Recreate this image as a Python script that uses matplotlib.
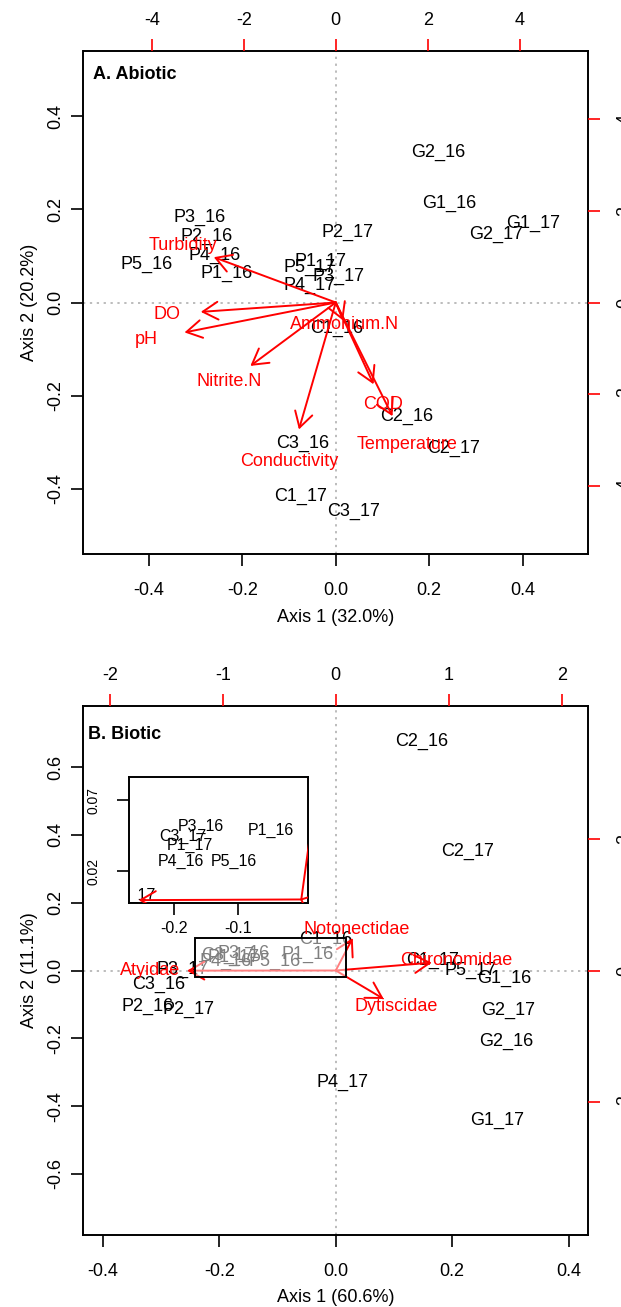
import matplotlib
matplotlib.use('Agg')
import matplotlib.pyplot as plt
from matplotlib.patches import Rectangle

plt.rcParams['font.family'] = ['Liberation Sans', 'DejaVu Sans']
plt.rcParams['font.size'] = 13
plt.rcParams['axes.unicode_minus'] = False

# ---------------- Panel A: abiotic (site scores, primary axes) ----------------
a_sites = ['P3_16', 'P2_16', 'P4_16', 'P1_16', 'P5_16', 'P2_17', 'P1_17', 'P5_17',
           'P3_17', 'P4_17', 'C1_16', 'G2_16', 'G1_16', 'G2_17', 'G1_17', 'C2_16',
           'C3_16', 'C2_17', 'C1_17', 'C3_17']
a_x = [-0.2914, -0.2760, -0.2583, -0.2326, -0.4037, 0.0255, -0.0316, -0.0572,
       0.0069, -0.0551, 0.0021, 0.2201, 0.2437, 0.3428, 0.4213, 0.1517,
       -0.0700, 0.2524, -0.0759, 0.0375]
a_y = [0.1829, 0.1422, 0.1016, 0.0631, 0.0824, 0.1514, 0.0873, 0.0745,
       0.0552, 0.0374, -0.0555, 0.3226, 0.2134, 0.1465, 0.1701, -0.2442,
       -0.3027, -0.3141, -0.4166, -0.4476]
# variable loadings (secondary axes)
a_vars = ['Turbidity', 'DO', 'pH', 'Nitrite.N', 'Conductivity', 'COD',
          'Temperature', 'Ammonium.N']
a_vx = [-3.318, -3.672, -4.115, -2.323, -1.002, 1.028, 1.544, 0.201]
a_vy = [1.236, -0.256, -0.816, -1.730, -3.465, -2.231, -3.101, -0.490]
a_xticks = [-0.4, -0.2, 0.0, 0.2, 0.4]
a_yticks = [-0.4, -0.2, 0.0, 0.2, 0.4]
a_top_ticks = [-4, -2, 0, 2, 4]
a_right_ticks = [-4, -2, 0, 2, 4]
a_lim = 0.5396
a_lim2 = 5.49

# ---------------- Panel B: biotic ----------------
b_sites = ['C2_16', 'C2_17', 'C1_17', 'P5_17', 'G1_16', 'G2_17', 'G2_16', 'G1_17',
           'P4_17', 'C1_16', 'P3_17', 'C3_16', 'P2_16', 'P2_17',
           'P3_16', 'C3_17', 'P1_17', 'P1_16', 'P4_16', 'P5_16']
b_x = [0.1481, 0.2271, 0.1662, 0.2323, 0.2890, 0.2964, 0.2924, 0.2770,
       0.0124, -0.0168, -0.2640, -0.3050, -0.3235, -0.2522,
       -0.1576, -0.1860, -0.1750, -0.0480, -0.1895, -0.1053]
b_y = [0.6770, 0.3525, 0.0310, 0.0000, -0.0230, -0.1165, -0.2100, -0.4410,
       -0.3289, 0.0920, 0.0030, -0.0398, -0.1047, -0.1145,
       0.0517, 0.0446, 0.0383, 0.0484, 0.0270, 0.0266]
b_vars = ['Notonectidae', 'Chironomidae', 'Dytiscidae', 'Atyidae']
b_vx = [0.188, 1.062, 0.531, -1.644]
b_vy = [0.616, 0.149, -0.540, -0.003]
b_xticks = [-0.4, -0.2, 0.0, 0.2, 0.4]
b_yticks = [-0.6, -0.4, -0.2, 0.0, 0.2, 0.4, 0.6]
b_top_ticks = [-2, -1, 0, 1, 2]
b_right_ticks = [-2, 0, 2]
b_xlim = 0.4334
b_ylim = 0.780
b_ratio = 5.15
# zoom window drawn in panel B and the inset limits
zoom_x = (-0.2419, 0.0175)
zoom_y = (-0.020, 0.095)
inset_xlim = (-0.27, 0.011)
inset_ylim = (-0.0027, 0.0864)
inset_xticks = [-0.2, -0.1]
inset_yticks = [0.02, 0.07]

W, H = 621, 1307
fig = plt.figure(figsize=(W / 100, H / 100), dpi=100)


def rect_pos(l, t, r, b):
    return [l / W, 1 - b / H, (r - l) / W, (b - t) / H]


TL = 8.3
FS = 13


def setup_primary(ax, xlim, ylim, xticks, yticks, xlabel, ylabel):
    ax.set_xlim(xlim)
    ax.set_ylim(ylim)
    ax.set_xticks(xticks)
    ax.set_xticklabels([f'{v:.1f}' for v in xticks])
    ax.set_yticks(yticks)
    ax.set_yticklabels([f'{v:.1f}' for v in yticks], rotation=90, va='center')
    ax.tick_params(axis='x', direction='out', length=TL, width=1.2, pad=12.2, labelsize=FS)
    ax.tick_params(axis='y', direction='out', length=TL, width=1.2, pad=5.9, labelsize=FS)
    for s in ax.spines.values():
        s.set_linewidth(1.4)
    ax.set_xlabel(xlabel, labelpad=6.5, fontsize=FS)
    ax.set_ylabel(ylabel, labelpad=6.3, fontsize=FS)
    ax.axhline(0, color='#AAAAAA', lw=1.1, ls=(0, (1.5, 3)), zorder=0)
    ax.axvline(0, color='#AAAAAA', lw=1.1, ls=(0, (1.5, 3)), zorder=0)


def setup_secondary(pos, xlim, ylim, xticks, yticks):
    ax2 = fig.add_axes(pos, facecolor='none')
    ax2.set_xlim(xlim)
    ax2.set_ylim(ylim)
    ax2.xaxis.tick_top()
    ax2.yaxis.tick_right()
    ax2.set_xticks(xticks)
    ax2.set_xticklabels([str(v) for v in xticks])
    ax2.set_yticks(yticks)
    ax2.set_yticklabels([str(v) for v in yticks], rotation=90, va='center')
    ax2.tick_params(axis='x', direction='out', color='red', labelcolor='black',
                    length=TL, width=1.2, pad=7.2, labelsize=FS)
    ax2.tick_params(axis='y', direction='out', color='red', labelcolor='black',
                    length=TL, width=1.2, pad=12.2, labelsize=FS)
    for s in ax2.spines.values():
        s.set_visible(False)
    return ax2


def draw_arrow(ax, x, y, clip=False):
    ann = ax.annotate('', xy=(x, y), xytext=(0, 0), annotation_clip=False,
                      arrowprops=dict(arrowstyle='->,head_length=0.55,head_width=0.32',
                                      color='red', lw=1.4, shrinkA=0, shrinkB=0,
                                      mutation_scale=20))
    if clip:
        ann.arrow_patch.set_clip_box(ax.bbox)
        ann.arrow_patch.set_clip_on(True)


# ---------------- Panel A ----------------
posA = rect_pos(83.5, 51, 588, 554)
axA = fig.add_axes(posA)
setup_primary(axA, (-a_lim, a_lim), (-a_lim, a_lim), a_xticks, a_yticks,
              'Axis 1 (32.0%)', 'Axis 2 (20.2%)')
for s, x, y in zip(a_sites, a_x, a_y):
    axA.text(x, y, s, ha='center', va='center', fontsize=FS, color='black')
axA.text(0.019, 0.954, 'A. Abiotic', transform=axA.transAxes, fontweight='bold',
         ha='left', va='center', fontsize=FS)
axA2 = setup_secondary(posA, (-a_lim2, a_lim2), (-a_lim2, a_lim2), a_top_ticks, a_right_ticks)
for s, x, y in zip(a_vars, a_vx, a_vy):
    draw_arrow(axA2, 0.8 * x, 0.8 * y)
    axA2.text(x, y, s, ha='center', va='center', fontsize=FS, color='red')

# ---------------- Panel B ----------------
posB = rect_pos(83.5, 706, 588, 1235)
axB = fig.add_axes(posB)
setup_primary(axB, (-b_xlim, b_xlim), (-b_ylim, b_ylim), b_xticks, b_yticks,
              'Axis 1 (60.6%)', 'Axis 2 (11.1%)')
for s, x, y in zip(b_sites, b_x, b_y):
    axB.text(x, y, s, ha='center', va='center', fontsize=FS, color='black')
axB.text(0.009, 0.947, 'B. Biotic', transform=axB.transAxes, fontweight='bold',
         ha='left', va='center', fontsize=FS)
axB2 = setup_secondary(posB, (-b_xlim * b_ratio, b_xlim * b_ratio),
                       (-b_ylim * b_ratio, b_ylim * b_ratio), b_top_ticks, b_right_ticks)
for s, x, y in zip(b_vars, b_vx, b_vy):
    draw_arrow(axB2, 0.8 * x, 0.8 * y)
    axB2.text(x, y, s, ha='center', va='center', fontsize=FS, color='red')
zr = Rectangle((zoom_x[0], zoom_y[0]), zoom_x[1] - zoom_x[0], zoom_y[1] - zoom_y[0],
               transform=axB.transData, facecolor=(1, 1, 1, 0.5), edgecolor='black',
               lw=1.4, zorder=20)
axB2.add_patch(zr)

# ---------------- Inset ----------------
axI = fig.add_axes(rect_pos(129.3, 776.7, 308.3, 903.3))
axI.set_xlim(inset_xlim)
axI.set_ylim(inset_ylim)
axI.set_xticks(inset_xticks)
axI.set_xticklabels([f'{v:.1f}' for v in inset_xticks])
axI.set_yticks(inset_yticks)
axI.set_yticklabels([f'{v:.2f}' for v in inset_yticks], rotation=90, va='center')
axI.tick_params(axis='x', direction='out', length=8.6, width=1.2, pad=4.5, labelsize=11.5)
axI.tick_params(axis='y', direction='out', length=8.6, width=1.2, pad=12, labelsize=10)
for s in axI.spines.values():
    s.set_linewidth(1.4)
for s, x, y in zip(b_sites, b_x, b_y):
    axI.text(x, y, s, ha='center', va='center', fontsize=11.5, color='black', clip_on=True)
for s, x, y in zip(b_vars, b_vx, b_vy):
    draw_arrow(axI, 0.8 * x / b_ratio, 0.8 * y / b_ratio, clip=True)
    axI.text(x / b_ratio, y / b_ratio, s, ha='center', va='center', fontsize=11.5,
             color='red', clip_on=True)

fig.savefig('out.png', dpi=100)
